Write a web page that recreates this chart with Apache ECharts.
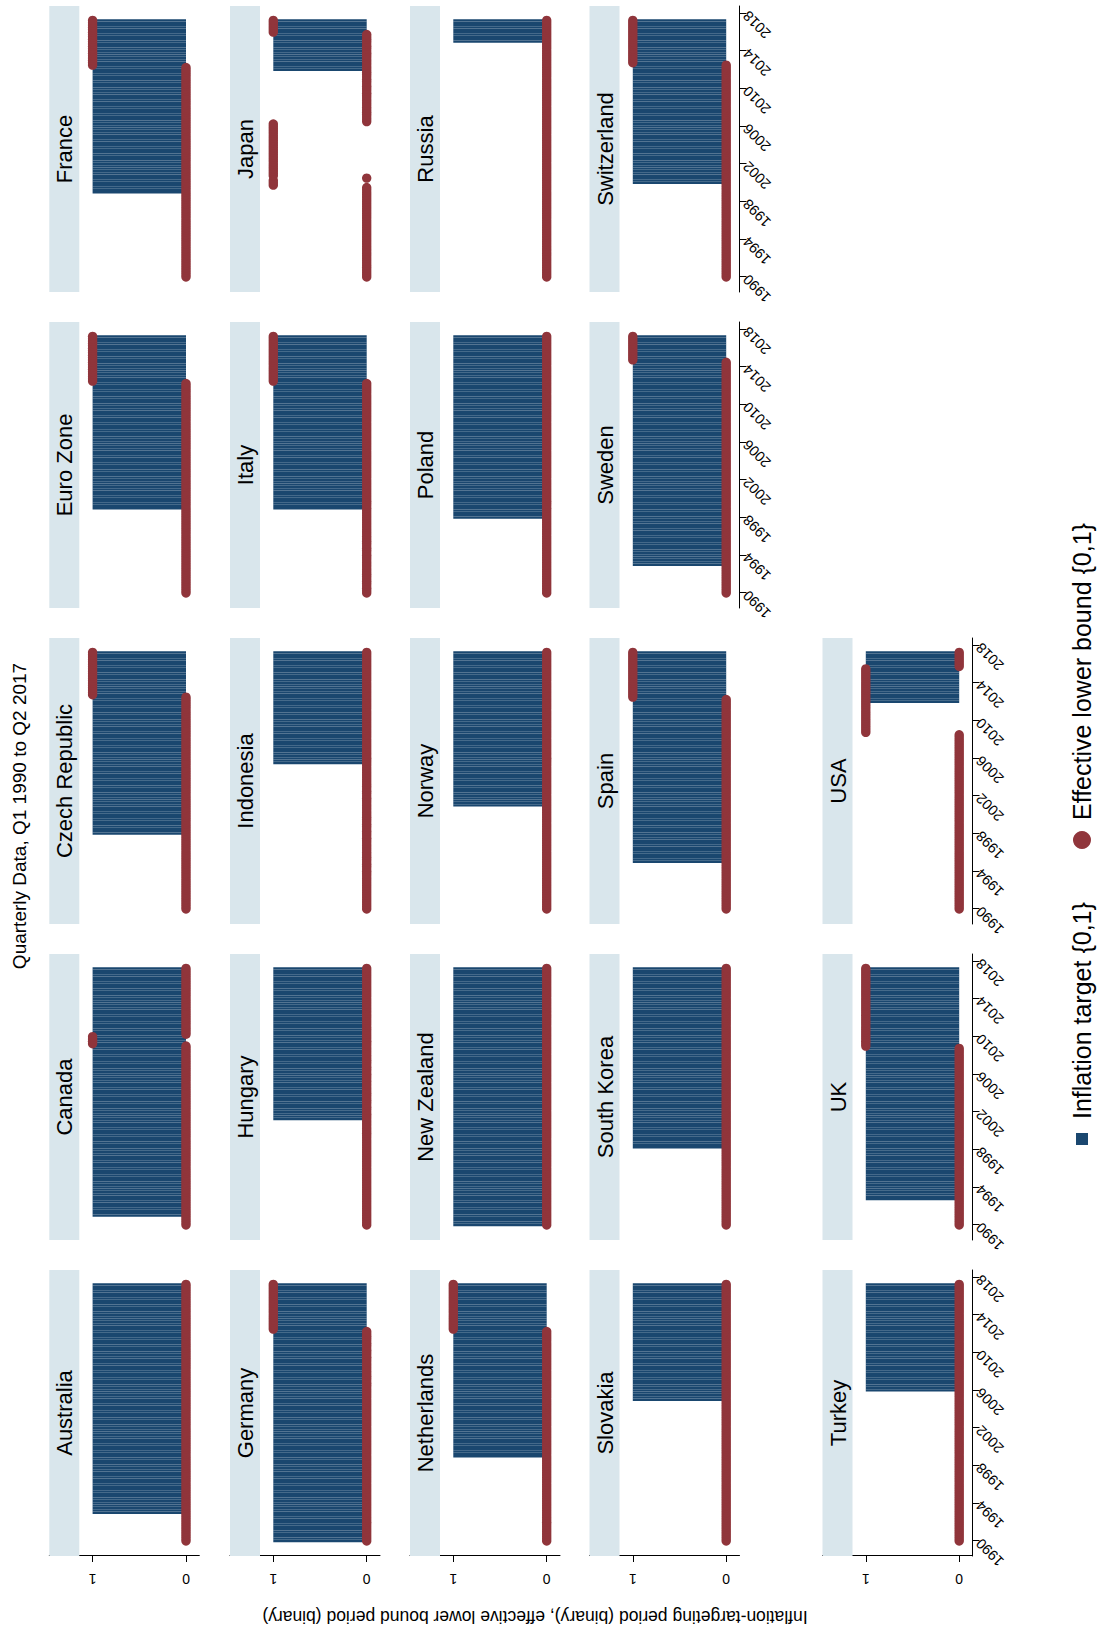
<!DOCTYPE html>
<html><head><meta charset="utf-8">
<script src="https://cdn.jsdelivr.net/npm/echarts@6/dist/echarts.min.js"></script>
<style>
html,body{margin:0;padding:0;background:#fff;overflow:hidden;width:1104px;height:1632px;}
#chart{position:absolute;left:0;top:0;width:1632px;height:1104px;transform-origin:0 0;transform:translate(0,1632px) rotate(-90deg);}
</style></head><body><div id="chart"></div>
<script>
// ---------------- DATA ----------------
const chartTitle = "Quarterly Data, Q1 1990 to Q2 2017";
const yAxisTitle = "Inflation-targeting period (binary), effective lower bound period (binary)";
const legendLabels = ["Inflation target {0,1}", "Effective lower bound {0,1}"];
const countries = ["Australia","Canada","Czech Republic","Euro Zone","France",
  "Germany","Hungary","Indonesia","Italy","Japan",
  "Netherlands","New Zealand","Norway","Poland","Russia",
  "Slovakia","South Korea","Spain","Sweden","Switzerland",
  "Turkey","UK","USA"];
const firstYear = 1990;               // series start: Q1 1990, quarterly, to Q2 2017
const yearTicks = [1990,1994,1998,2002,2006,2010,2014,2018];
const valueTicks = [0,1];
// One 4-digit group per year (Q1..Q4), 1990s | 2000s | 2010s (2017: Q1,Q2)
const inflationTarget = {
  "Australia":      "0000 0000 0000 1111 1111 1111 1111 1111 1111 1111|1111 1111 1111 1111 1111 1111 1111 1111 1111 1111|1111 1111 1111 1111 1111 1111 1111 11",
  "Canada":         "0000 1111 1111 1111 1111 1111 1111 1111 1111 1111|1111 1111 1111 1111 1111 1111 1111 1111 1111 1111|1111 1111 1111 1111 1111 1111 1111 11",
  "Czech Republic": "0000 0000 0000 0000 0000 0000 0000 0000 1111 1111|1111 1111 1111 1111 1111 1111 1111 1111 1111 1111|1111 1111 1111 1111 1111 1111 1111 11",
  "Euro Zone":      "0000 0000 0000 0000 0000 0000 0000 0000 0000 1111|1111 1111 1111 1111 1111 1111 1111 1111 1111 1111|1111 1111 1111 1111 1111 1111 1111 11",
  "France":         "0000 0000 0000 0000 0000 0000 0000 0000 0000 1111|1111 1111 1111 1111 1111 1111 1111 1111 1111 1111|1111 1111 1111 1111 1111 1111 1111 11",
  "Germany":        "1111 1111 1111 1111 1111 1111 1111 1111 1111 1111|1111 1111 1111 1111 1111 1111 1111 1111 1111 1111|1111 1111 1111 1111 1111 1111 1111 11",
  "Hungary":        "0000 0000 0000 0000 0000 0000 0000 0000 0000 0000|0000 0111 1111 1111 1111 1111 1111 1111 1111 1111|1111 1111 1111 1111 1111 1111 1111 11",
  "Indonesia":      "0000 0000 0000 0000 0000 0000 0000 0000 0000 0000|0000 0000 0000 0000 0000 0011 1111 1111 1111 1111|1111 1111 1111 1111 1111 1111 1111 11",
  "Italy":          "0000 0000 0000 0000 0000 0000 0000 0000 0000 1111|1111 1111 1111 1111 1111 1111 1111 1111 1111 1111|1111 1111 1111 1111 1111 1111 1111 11",
  "Japan":          "0000 0000 0000 0000 0000 0000 0000 0000 0000 0000|0000 0000 0000 0000 0000 0000 0000 0000 0000 0000|0000 0000 1111 1111 1111 1111 1111 11",
  "Netherlands":    "0000 0000 0000 0000 0000 0000 0000 0000 0000 1111|1111 1111 1111 1111 1111 1111 1111 1111 1111 1111|1111 1111 1111 1111 1111 1111 1111 11",
  "New Zealand":    "1111 1111 1111 1111 1111 1111 1111 1111 1111 1111|1111 1111 1111 1111 1111 1111 1111 1111 1111 1111|1111 1111 1111 1111 1111 1111 1111 11",
  "Norway":         "0000 0000 0000 0000 0000 0000 0000 0000 0000 0000|0000 1111 1111 1111 1111 1111 1111 1111 1111 1111|1111 1111 1111 1111 1111 1111 1111 11",
  "Poland":         "0000 0000 0000 0000 0000 0000 0000 0000 1111 1111|1111 1111 1111 1111 1111 1111 1111 1111 1111 1111|1111 1111 1111 1111 1111 1111 1111 11",
  "Russia":         "0000 0000 0000 0000 0000 0000 0000 0000 0000 0000|0000 0000 0000 0000 0000 0000 0000 0000 0000 0000|0000 0000 0000 0000 0000 1111 1111 11",
  "Slovakia":       "0000 0000 0000 0000 0000 0000 0000 0000 0000 0000|0000 0000 0000 0000 0000 1111 1111 1111 1111 1111|1111 1111 1111 1111 1111 1111 1111 11",
  "South Korea":    "0000 0000 0000 0000 0000 0000 0000 0000 0111 1111|1111 1111 1111 1111 1111 1111 1111 1111 1111 1111|1111 1111 1111 1111 1111 1111 1111 11",
  "Spain":          "0000 0000 0000 0000 0000 1111 1111 1111 1111 1111|1111 1111 1111 1111 1111 1111 1111 1111 1111 1111|1111 1111 1111 1111 1111 1111 1111 11",
  "Sweden":         "0000 0000 0000 1111 1111 1111 1111 1111 1111 1111|1111 1111 1111 1111 1111 1111 1111 1111 1111 1111|1111 1111 1111 1111 1111 1111 1111 11",
  "Switzerland":    "0000 0000 0000 0000 0000 0000 0000 0000 0000 0000|1111 1111 1111 1111 1111 1111 1111 1111 1111 1111|1111 1111 1111 1111 1111 1111 1111 11",
  "Turkey":         "0000 0000 0000 0000 0000 0000 0000 0000 0000 0000|0000 0000 0000 0000 0000 0000 1111 1111 1111 1111|1111 1111 1111 1111 1111 1111 1111 11",
  "UK":             "0000 0000 0001 1111 1111 1111 1111 1111 1111 1111|1111 1111 1111 1111 1111 1111 1111 1111 1111 1111|1111 1111 1111 1111 1111 1111 1111 11",
  "USA":            "0000 0000 0000 0000 0000 0000 0000 0000 0000 0000|0000 0000 0000 0000 0000 0000 0000 0000 0000 0000|0000 0000 1111 1111 1111 1111 1111 11"
};
const effectiveLowerBound = {
  "Australia":      "0000 0000 0000 0000 0000 0000 0000 0000 0000 0000|0000 0000 0000 0000 0000 0000 0000 0000 0000 0000|0000 0000 0000 0000 0000 0000 0000 00",
  "Canada":         "0000 0000 0000 0000 0000 0000 0000 0000 0000 0000|0000 0000 0000 0000 0000 0000 0000 0000 0000 0111|1000 0000 0000 0000 0000 0000 0000 00",
  "Czech Republic": "0000 0000 0000 0000 0000 0000 0000 0000 0000 0000|0000 0000 0000 0000 0000 0000 0000 0000 0000 0000|0000 0000 0001 1111 1111 1111 1111 11",
  "Euro Zone":      "0000 0000 0000 0000 0000 0000 0000 0000 0000 0000|0000 0000 0000 0000 0000 0000 0000 0000 0000 0000|0000 0000 0011 1111 1111 1111 1111 11",
  "France":         "0000 0000 0000 0000 0000 0000 0000 0000 0000 0000|0000 0000 0000 0000 0000 0000 0000 0000 0000 0000|0000 0000 0011 1111 1111 1111 1111 11",
  "Germany":        "0000 0000 0000 0000 0000 0000 0000 0000 0000 0000|0000 0000 0000 0000 0000 0000 0000 0000 0000 0000|0000 0000 0011 1111 1111 1111 1111 11",
  "Hungary":        "0000 0000 0000 0000 0000 0000 0000 0000 0000 0000|0000 0000 0000 0000 0000 0000 0000 0000 0000 0000|0000 0000 0000 0000 0000 0000 0000 00",
  "Indonesia":      "0000 0000 0000 0000 0000 0000 0000 0000 0000 0000|0000 0000 0000 0000 0000 0000 0000 0000 0000 0000|0000 0000 0000 0000 0000 0000 0000 00",
  "Italy":          "0000 0000 0000 0000 0000 0000 0000 0000 0000 0000|0000 0000 0000 0000 0000 0000 0000 0000 0000 0000|0000 0000 0011 1111 1111 1111 1111 11",
  "Japan":          "0000 0000 0000 0000 0000 0000 0000 0000 0000 0001|1101 1111 1111 1111 1111 1111 1100 0000 0000 0000|0000 0000 0000 0000 0000 0000 1111 11",
  "Netherlands":    "0000 0000 0000 0000 0000 0000 0000 0000 0000 0000|0000 0000 0000 0000 0000 0000 0000 0000 0000 0000|0000 0000 0011 1111 1111 1111 1111 11",
  "New Zealand":    "0000 0000 0000 0000 0000 0000 0000 0000 0000 0000|0000 0000 0000 0000 0000 0000 0000 0000 0000 0000|0000 0000 0000 0000 0000 0000 0000 00",
  "Norway":         "0000 0000 0000 0000 0000 0000 0000 0000 0000 0000|0000 0000 0000 0000 0000 0000 0000 0000 0000 0000|0000 0000 0000 0000 0000 0000 0000 00",
  "Poland":         "0000 0000 0000 0000 0000 0000 0000 0000 0000 0000|0000 0000 0000 0000 0000 0000 0000 0000 0000 0000|0000 0000 0000 0000 0000 0000 0000 00",
  "Russia":         "0000 0000 0000 0000 0000 0000 0000 0000 0000 0000|0000 0000 0000 0000 0000 0000 0000 0000 0000 0000|0000 0000 0000 0000 0000 0000 0000 00",
  "Slovakia":       "0000 0000 0000 0000 0000 0000 0000 0000 0000 0000|0000 0000 0000 0000 0000 0000 0000 0000 0000 0000|0000 0000 0000 0000 0000 0000 0000 00",
  "South Korea":    "0000 0000 0000 0000 0000 0000 0000 0000 0000 0000|0000 0000 0000 0000 0000 0000 0000 0000 0000 0000|0000 0000 0000 0000 0000 0000 0000 00",
  "Spain":          "0000 0000 0000 0000 0000 0000 0000 0000 0000 0000|0000 0000 0000 0000 0000 0000 0000 0000 0000 0000|0000 0000 0011 1111 1111 1111 1111 11",
  "Sweden":         "0000 0000 0000 0000 0000 0000 0000 0000 0000 0000|0000 0000 0000 0000 0000 0000 0000 0000 0000 0000|0000 0000 0000 0000 0001 1111 1111 11",
  "Switzerland":    "0000 0000 0000 0000 0000 0000 0000 0000 0000 0000|0000 0000 0000 0000 0000 0000 0000 0000 0000 0000|0000 0000 0001 1111 1111 1111 1111 11",
  "Turkey":         "0000 0000 0000 0000 0000 0000 0000 0000 0000 0000|0000 0000 0000 0000 0000 0000 0000 0000 0000 0000|0000 0000 0000 0000 0000 0000 0000 00",
  "UK":             "0000 0000 0000 0000 0000 0000 0000 0000 0000 0000|0000 0000 0000 0000 0000 0000 0000 0000 0000 1111|1111 1111 1111 1111 1111 1111 1111 11",
  "USA":            "0000 0000 0000 0000 0000 0000 0000 0000 0000 0000|0000 0000 0000 0000 0000 0000 0000 0000 0001 1111|1111 1111 1111 1111 1111 1110 0000 00"
};

// ---------------- LAYOUT (landscape canvas, page-rotated) ----------------
const FONT = "'Liberation Sans', Arial, Helvetica, sans-serif";
const colLeft = [76, 392, 708, 1024, 1340];
const rowTop = [49.3, 230, 410, 589.5, 822.5];
const panelW = 286, stripH = 30, gridH = 150;
const xMin = 1988.405, xMax = 2018.776;
const yMin = -0.1424, yMax = 1.4636;
const BLUE = '#1a476f', RED = '#90353b', STRIP = '#d9e6ec';

function parseQ(s){ return s.replace(/[^01]/g,'').split('').map(Number); }

const grids = [], xAxes = [], yAxes = [], series = [], graphics = [];
countries.forEach((name, k) => {
  const r = Math.floor(k/5), c = k % 5;
  const it = parseQ(inflationTarget[name]);
  const elb = parseQ(effectiveLowerBound[name]);
  if (it.length !== 110 || elb.length !== 110) console.warn(name, it.length, elb.length);
  const showX = (r === 4) || (r === 3 && c >= 3);
  const showY = (c === 0);
  grids.push({left: colLeft[c], top: rowTop[r], width: panelW, height: gridH, containLabel: false});
  xAxes.push({
    type: 'value', gridIndex: k, min: xMin, max: xMax,
    splitLine: {show: false},
    axisLine: {show: showX, onZero: false, lineStyle: {color: '#000', width: 1}},
    axisTick: {show: showX, length: 7, customValues: yearTicks, lineStyle: {color: '#000', width: 1}},
    axisLabel: {show: showX, customValues: yearTicks, rotate: 45, margin: 6, fontSize: 14.5,
      color: '#000', fontFamily: FONT, formatter: v => String(v)}
  });
  yAxes.push({
    type: 'value', gridIndex: k, min: yMin, max: yMax,
    splitLine: {show: false},
    axisLine: {show: showY, lineStyle: {color: '#000', width: 1}},
    axisTick: {show: showY, length: 6, customValues: valueTicks, lineStyle: {color: '#000', width: 1}},
    axisLabel: {show: showY, customValues: valueTicks, rotate: 90, margin: 16, fontSize: 14,
      color: '#000', fontFamily: FONT, formatter: v => String(v)}
  });
  const barData = [], dotData = [];
  for (let i = 0; i < 110; i++) {
    const t = firstYear + i/4;
    if (it[i] === 1) barData.push([t, 1]);
    dotData.push([t, elb[i]]);
  }
  series.push({
    name: legendLabels[0], type: 'bar', xAxisIndex: k, yAxisIndex: k,
    data: barData, barWidth: 2.36, itemStyle: {color: BLUE}, silent: true, z: 2
  });
  series.push({
    name: legendLabels[1], type: 'scatter', xAxisIndex: k, yAxisIndex: k,
    data: dotData, symbol: 'circle', symbolSize: 9.4, itemStyle: {color: RED, opacity: 1},
    silent: true, z: 3
  });
  graphics.push({type: 'rect', z: 1, shape: {x: colLeft[c], y: rowTop[r], width: panelW, height: stripH},
    style: {fill: STRIP}});
  graphics.push({type: 'text', z: 5, x: colLeft[c] + panelW/2, y: rowTop[r] + stripH/2 + 0.5,
    style: {text: name, fill: '#000', fontSize: 22, fontFamily: FONT, align: 'center', verticalAlign: 'middle'}});
});

// title, y title, legend
graphics.push({type: 'text', z: 5, x: 816, y: 19,
  style: {text: chartTitle, fill: '#000', fontSize: 19, fontFamily: FONT, align: 'center', verticalAlign: 'middle'}});
graphics.push({type: 'text', z: 5, x: 15, y: 535, rotation: Math.PI/2,
  style: {text: yAxisTitle, fill: '#000', fontSize: 17.5, fontFamily: FONT, align: 'center', verticalAlign: 'middle'}});
graphics.push({type: 'rect', z: 5, shape: {x: 487, y: 1076, width: 12, height: 12}, style: {fill: BLUE}});
graphics.push({type: 'text', z: 5, x: 513, y: 1082,
  style: {text: legendLabels[0], fill: '#000', fontSize: 25, fontFamily: FONT, align: 'left', verticalAlign: 'middle'}});
graphics.push({type: 'circle', z: 5, shape: {cx: 792, cy: 1082, r: 9}, style: {fill: RED}});
graphics.push({type: 'text', z: 5, x: 812, y: 1082,
  style: {text: legendLabels[1], fill: '#000', fontSize: 25, fontFamily: FONT, align: 'left', verticalAlign: 'middle'}});

const chart = echarts.init(document.getElementById('chart'), null, {renderer: 'svg', width: 1632, height: 1104});
chart.setOption({
  animation: false,
  backgroundColor: '#fff',
  grid: grids, xAxis: xAxes, yAxis: yAxes, series: series,
  graphic: graphics
});
</script></body></html>
